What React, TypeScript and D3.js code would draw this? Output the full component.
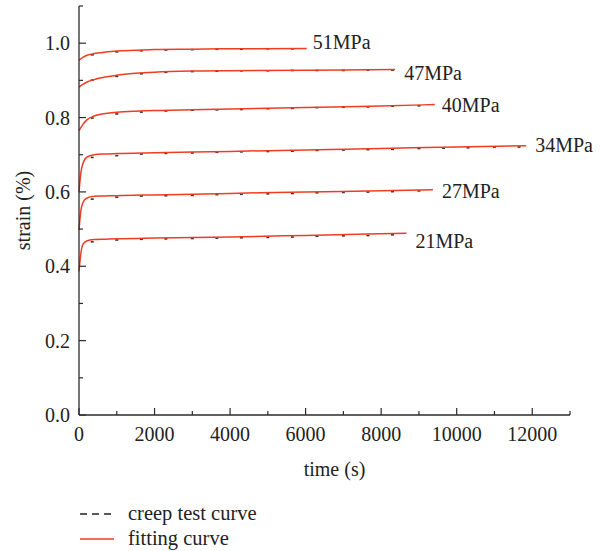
import React from "react";
import * as d3 from "d3";

// stress levels (labels at the end of each curve)
const stressLabels = ["51MPa", "47MPa", "40MPa", "34MPa", "27MPa", "21MPa"];

// fitting curves: time (s) / strain (%)
const fitTimes51 = [0, 100, 200, 400, 700, 1000, 1500, 2000, 3000, 4000, 6030];
const fitValues51 = [0.954, 0.962, 0.967, 0.972, 0.976, 0.979, 0.981, 0.983, 0.984, 0.985, 0.986];
const fitTimes47 = [0, 100, 200, 400, 700, 1000, 1500, 2000, 3000, 4000, 6000, 8370];
const fitValues47 = [0.882, 0.889, 0.895, 0.902, 0.909, 0.914, 0.919, 0.922, 0.925, 0.926, 0.927, 0.929];
const fitTimes40 = [0, 100, 200, 400, 700, 1000, 1500, 2000, 3000, 4000, 6000, 8000, 9420];
const fitValues40 = [0.765, 0.781, 0.793, 0.804, 0.811, 0.814, 0.817, 0.819, 0.821, 0.823, 0.827, 0.831, 0.835];
const fitTimes34 = [0, 50, 100, 200, 400, 700, 1000, 2000, 4000, 6000, 8000, 10000, 11840];
const fitValues34 = [0.6, 0.652, 0.675, 0.693, 0.7, 0.702, 0.703, 0.705, 0.709, 0.713, 0.717, 0.721, 0.724];
const fitTimes27 = [0, 50, 100, 200, 400, 700, 1000, 2000, 4000, 6000, 8000, 9370];
const fitValues27 = [0.498, 0.55, 0.57, 0.583, 0.588, 0.589, 0.59, 0.592, 0.596, 0.6, 0.603, 0.606];
const fitTimes21 = [0, 50, 100, 200, 400, 700, 1000, 2000, 4000, 6000, 8670];
const fitValues21 = [0.386, 0.435, 0.458, 0.468, 0.472, 0.473, 0.474, 0.476, 0.479, 0.483, 0.489];

// creep test data: time (s) / strain (%)
const testTimes = [0, 350, 1000, 1650, 2300, 3000, 3650, 4300, 5000, 5650, 6300, 7000, 7650, 8300, 9000, 9650, 10300, 11000, 11650];
const testValues51 = [0.954, 0.97, 0.978, 0.981, 0.983, 0.984, 0.985, 0.985, 0.986, 0.986];
const testValues47 = [0.882, 0.902, 0.912, 0.919, 0.923, 0.925, 0.926, 0.927, 0.927, 0.928, 0.928, 0.928, 0.929, 0.929];
const testValues40 = [0.765, 0.8, 0.811, 0.816, 0.819, 0.821, 0.822, 0.823, 0.825, 0.826, 0.828, 0.829, 0.83, 0.832, 0.833];
const testValues34 = [0.6, 0.694, 0.699, 0.703, 0.705, 0.706, 0.708, 0.709, 0.71, 0.711, 0.713, 0.714, 0.715, 0.716, 0.718, 0.719, 0.72, 0.722, 0.722];
const testValues27 = [0.498, 0.582, 0.587, 0.59, 0.591, 0.592, 0.594, 0.595, 0.596, 0.597, 0.599, 0.6, 0.601, 0.602, 0.604];
const testValues21 = [0.386, 0.467, 0.472, 0.474, 0.475, 0.476, 0.477, 0.478, 0.479, 0.48, 0.482, 0.483, 0.484, 0.486];

const xTicks = [0, 2000, 4000, 6000, 8000, 10000, 12000];
const yTicks = [0, 0.2, 0.4, 0.6, 0.8, 1.0];
const legendLabels = ["creep test curve", "fitting curve"];

const series = [
  { label: stressLabels[0], ft: fitTimes51, fv: fitValues51, tv: testValues51, dx: 6, dy: 1 },
  { label: stressLabels[1], ft: fitTimes47, fv: fitValues47, tv: testValues47, dx: 9, dy: 10 },
  { label: stressLabels[2], ft: fitTimes40, fv: fitValues40, tv: testValues40, dx: 7, dy: 7 },
  { label: stressLabels[3], ft: fitTimes34, fv: fitValues34, tv: testValues34, dx: 9, dy: 6 },
  { label: stressLabels[4], ft: fitTimes27, fv: fitValues27, tv: testValues27, dx: 9, dy: 8 },
  { label: stressLabels[5], ft: fitTimes21, fv: fitValues21, tv: testValues21, dx: 9, dy: 15 }
];

const width = 606;
const height = 551;
const margin = { top: 6, right: 36, bottom: 136, left: 79 };
const font = "'Liberation Serif', 'Times New Roman', serif";
const red = "#f23c22";
const axisColor = "#2b2b2b";

const App = () => {
  const x = d3
    .scaleLinear()
    .domain([0, 13000])
    .range([margin.left, width - margin.right]);
  const y = d3
    .scaleLinear()
    .domain([0, 1.1])
    .range([height - margin.bottom, margin.top]);

  const line = d3
    .line<[number, number]>()
    .x(d => x(d[0]))
    .y(d => y(d[1]))
    .curve(d3.curveMonotoneX);

  const x0 = x(0);
  const y0 = y(0);
  const minorX = d3.range(1000, 13000, 2000);
  const minorY = [0.1, 0.3, 0.5, 0.7, 0.9];

  return (
    <svg
      width={width}
      height={height}
      style={{ position: "absolute", left: 0, top: 0, background: "#fff" }}
      fontFamily={font}
    >
      {/* creep test data points */}
      {series.map(s => {
        const pts: [number, number][] = s.tv.map((v, i) => [testTimes[i], v]);
        return (
          <g key={"t" + s.label}>
            {pts.slice(1).map((p, i) => (
              <rect key={i} x={x(p[0]) - 1.5} y={y(p[1]) - 0.3} width={3} height={1.6} fill="#333" />
            ))}
          </g>
        );
      })}
      {/* fitting curves */}
      {series.map(s => {
        const pts: [number, number][] = s.fv.map((v, i) => [s.ft[i], v]);
        const last = pts[pts.length - 1];
        return (
          <g key={"f" + s.label}>
            <path d={line(pts) || ""} fill="none" stroke={red} strokeWidth={1.5} />
            <text x={x(last[0]) + s.dx} y={y(last[1]) + s.dy} fontSize={20} fill="#222">
              {s.label}
            </text>
          </g>
        );
      })}

      {/* axes */}
      <line x1={x0} x2={x0} y1={y(1.1)} y2={y0} stroke={axisColor} strokeWidth={1.3} />
      <line x1={x0} x2={x(13000)} y1={y0} y2={y0} stroke={axisColor} strokeWidth={1.3} />
      {xTicks.map(t => (
        <g key={"xt" + t}>
          <line x1={x(t)} x2={x(t)} y1={y0} y2={y0 - 7} stroke={axisColor} strokeWidth={1.2} />
          <text x={x(t)} y={y0 + 26} fontSize={20} textAnchor="middle" fill="#222">
            {t}
          </text>
        </g>
      ))}
      {minorX.map(t => (
        <line key={"xm" + t} x1={x(t)} x2={x(t)} y1={y0} y2={y0 - 4} stroke={axisColor} strokeWidth={1.2} />
      ))}
      <line x1={x(13000)} x2={x(13000)} y1={y0} y2={y0 - 4} stroke={axisColor} strokeWidth={1.2} />
      {yTicks.map(t => (
        <g key={"yt" + t}>
          <line x1={x0} x2={x0 + 7} y1={y(t)} y2={y(t)} stroke={axisColor} strokeWidth={1.2} />
          <text x={x0 - 9} y={y(t) + 7} fontSize={20} textAnchor="end" fill="#222">
            {t.toFixed(1)}
          </text>
        </g>
      ))}
      {minorY.map(t => (
        <line key={"ym" + t} x1={x0} x2={x0 + 4} y1={y(t)} y2={y(t)} stroke={axisColor} strokeWidth={1.2} />
      ))}
      <line x1={x0} x2={x0 + 4} y1={y(1.1)} y2={y(1.1)} stroke={axisColor} strokeWidth={1.2} />

      <text x={(x0 + x(13000)) / 2 + 10} y={y0 + 61} fontSize={20} textAnchor="middle" fill="#222">
        time (s)
      </text>
      <text
        transform={`translate(30,${y(0.55)}) rotate(-90)`}
        fontSize={20}
        textAnchor="middle"
        fill="#222"
      >
        strain (%)
      </text>

      {/* legend */}
      <line x1={80} x2={114} y1={514} y2={514} stroke="#222" strokeWidth={1.3} strokeDasharray="7,5" />
      <text x={128} y={520} fontSize={20.5} fill="#222">
        {legendLabels[0]}
      </text>
      <line x1={80} x2={114} y1={539} y2={539} stroke={red} strokeWidth={1.5} />
      <text x={128} y={545} fontSize={20.5} fill="#222">
        {legendLabels[1]}
      </text>
    </svg>
  );
};

export default App;
